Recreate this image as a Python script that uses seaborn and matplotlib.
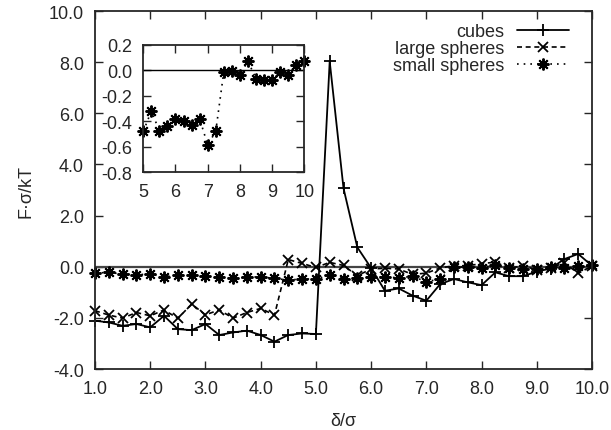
import matplotlib
matplotlib.use("Agg")
import matplotlib.pyplot as plt
from matplotlib.ticker import FormatStrFormatter, MultipleLocator
import seaborn as sns

# separation delta/sigma
delta = [1.0, 1.25, 1.5, 1.75, 2.0, 2.25, 2.5, 2.75, 3.0, 3.25, 3.5, 3.75,
         4.0, 4.25, 4.5, 4.75, 5.0, 5.25, 5.5, 5.75, 6.0, 6.25, 6.5, 6.75,
         7.0, 7.25, 7.5, 7.75, 8.0, 8.25, 8.5, 8.75, 9.0, 9.25, 9.5, 9.75, 10.0]

# force F*sigma/kT for each depletant
cubes = [-2.11, -2.18, -2.31, -2.24, -2.37, -1.92, -2.44, -2.48, -2.24, -2.67,
         -2.57, -2.50, -2.67, -2.93, -2.67, -2.61, -2.63, 8.03, 3.07, 0.76,
         -0.05, -0.94, -0.85, -1.13, -1.33, -0.68, -0.48, -0.61, -0.72, -0.22,
         -0.37, -0.37, -0.19, -0.07, 0.30, 0.50, 0.04]
large_spheres = [-1.72, -1.89, -2.01, -1.79, -1.92, -1.69, -2.02, -1.46, -1.88,
                 -1.69, -2.01, -1.79, -1.63, -1.89, 0.28, 0.13, -0.03, 0.17,
                 0.05, -0.35, -0.09, -0.06, -0.09, -0.30, -0.25, -0.05, 0.04,
                 0.04, 0.12, 0.18, -0.05, 0.03, -0.12, -0.04, 0.15, -0.26, 0.03]
small_spheres = [-0.25, -0.22, -0.29, -0.31, -0.29, -0.39, -0.33, -0.33, -0.38,
                 -0.42, -0.44, -0.42, -0.39, -0.46, -0.52, -0.48, -0.48, -0.32,
                 -0.475, -0.44, -0.385, -0.40, -0.43, -0.38, -0.585, -0.48,
                 -0.013, -0.008, -0.034, 0.07, -0.065, -0.078, -0.073, -0.016,
                 -0.039, 0.044, 0.07]

sns.set_style("ticks")
plt.rcParams['font.family'] = ['Liberation Sans', 'DejaVu Sans']
plt.rcParams['font.size'] = 13
plt.rcParams['axes.unicode_minus'] = False

fig = plt.figure(figsize=(6.11, 4.31), dpi=100)
ax = fig.add_axes([0.1555, 0.1415, 0.8134, 0.8306])

ax.axhline(0, color='#444444', lw=1.6, zorder=1)

asterisk = (8, 2, 0)
sns.lineplot(x=delta, y=cubes, ax=ax, color='k', lw=1.3, marker='+', ms=9,
             markeredgewidth=1.3, markeredgecolor='k', label='cubes', clip_on=False)
sns.lineplot(x=delta, y=large_spheres, ax=ax, color='k', lw=1.2, linestyle=(0, (3, 2.2)),
             marker='x', ms=7, markeredgewidth=1.3, markeredgecolor='k',
             label='large spheres', clip_on=False)
sns.lineplot(x=delta, y=small_spheres, ax=ax, color='k', lw=1.2, linestyle=(0, (1, 3)),
             marker=asterisk, ms=8.5, markeredgewidth=1.4, markeredgecolor='k',
             label='small spheres', clip_on=False)

ax.set_xlim(1.0, 10.0)
ax.set_ylim(-4.0, 10.0)
ax.xaxis.set_major_locator(MultipleLocator(1.0))
ax.yaxis.set_major_locator(MultipleLocator(2.0))
ax.xaxis.set_major_formatter(FormatStrFormatter('%.1f'))
ax.yaxis.set_major_formatter(FormatStrFormatter('%.1f'))
ax.tick_params(direction='in', length=6, width=1.0, top=True, right=True, pad=8)
for s in ax.spines.values():
    s.set_linewidth(1.3)
ax.set_xlabel('δ/σ', labelpad=11)
ax.set_ylabel('F·σ/kT', labelpad=10)

ax.legend(loc='upper right', bbox_to_anchor=(569 / 611, 1 - 24 / 431),
          bbox_transform=fig.transFigure, frameon=False, markerfirst=False,
          handlelength=2.9, handletextpad=0.7, labelspacing=0.0,
          borderpad=0, borderaxespad=0, fontsize=13)

# inset: small spheres zoomed in
ins = fig.add_axes([0.2345, 0.5979, 0.2635, 0.2961])
ins.axhline(0, color='k', lw=1.0, zorder=1)
sns.lineplot(x=delta[16:], y=small_spheres[16:], ax=ins, color='k', lw=1.2,
             linestyle=(0, (1, 3)), marker=asterisk, ms=8.5, markeredgewidth=1.4,
             markeredgecolor='k', clip_on=False, legend=False)
ins.set_xlim(5, 10)
ins.set_ylim(-0.8, 0.2)
ins.xaxis.set_major_locator(MultipleLocator(1))
ins.yaxis.set_major_locator(MultipleLocator(0.2))
ins.yaxis.set_major_formatter(FormatStrFormatter('%.1f'))
ins.tick_params(direction='in', length=6, width=1.0, top=True, right=True, pad=8)
for s in ins.spines.values():
    s.set_linewidth(1.3)

fig.savefig('out.png', dpi=100)
